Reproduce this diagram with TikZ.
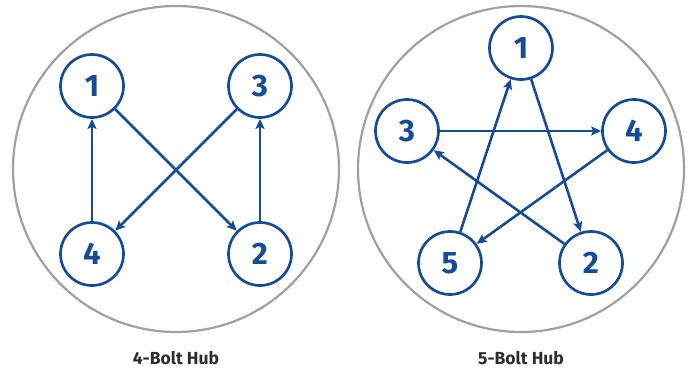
\documentclass[tikz,border=0pt]{standalone}
\usepackage{fontspec}
\setmainfont{Fira Sans}
\usetikzlibrary{arrows.meta}
\definecolor{hubblue}{RGB}{22,76,150}
\definecolor{hubgray}{RGB}{160,160,160}
\definecolor{captext}{RGB}{45,45,45}
\tikzset{
  bolt/.style={circle,draw=hubblue,line width=2.7pt,minimum size=63pt,inner sep=0pt,text=hubblue,font=\fontsize{31}{31}\selectfont\bfseries},
  hub/.style={circle,draw=hubgray,line width=2.2pt,minimum size=326pt,inner sep=0pt},
  seq/.style={draw=hubblue,line width=2.6pt,-{Stealth[length=10pt,width=9pt,inset=2pt]}},
  caption/.style={text=captext,font=\fontsize{17.5}{17.5}\selectfont\bfseries}
}
\begin{document}
\begin{tikzpicture}[x=1pt,y=-1pt]
\useasboundingbox (0,0) rectangle (691,370);
% left hub
\node[hub] (hubL) at (176,169) {};
\node[bolt] (l1) at (92,86) {1};
\node[bolt] (l3) at (260,86) {3};
\node[bolt] (l4) at (92,254) {4};
\node[bolt] (l2) at (260,254) {2};
\draw[seq] (l1) -- (l2);
\draw[seq] (l2) -- (l3);
\draw[seq] (l3) -- (l4);
\draw[seq] (l4) -- (l1);
\node[caption] (capL) at (176,358) {4-Bolt Hub};
% right hub
\node[hub] (hubR) at (521,169) {};
\node[bolt] (r1) at (521,48) {1};
\node[bolt] (r3) at (407,131) {3};
\node[bolt] (r4) at (634,131) {4};
\node[bolt] (r5) at (450,263) {5};
\node[bolt] (r2) at (591,263) {2};
\draw[seq] (r1) -- (r2);
\draw[seq] (r2) -- (r3);
\draw[seq] (r3) -- (r4);
\draw[seq] (r4) -- (r5);
\draw[seq] (r5) -- (r1);
\node[caption] (capR) at (521,358) {5-Bolt Hub};
\end{tikzpicture}
\end{document}
